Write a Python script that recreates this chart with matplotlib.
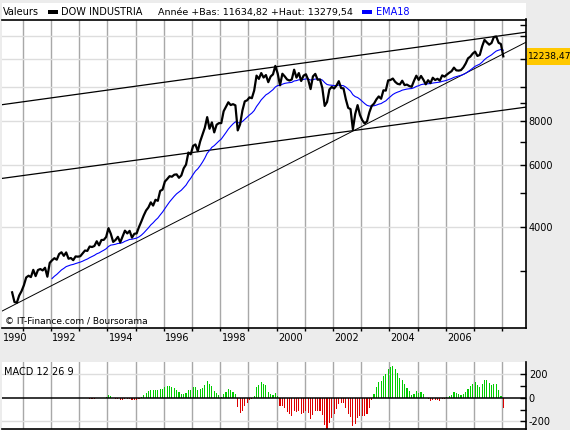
import numpy as np
import pandas as pd
import matplotlib
matplotlib.use('Agg')
import matplotlib.pyplot as plt
from matplotlib.patches import Rectangle

W, H = 570, 430

# monthly closes of the Dow, Aug 1990 -> Jan 2008
start_year, start_month = 1990, 8
dow_close = [
    2614, 2453, 2442, 2560, 2634,                                              # 1990
    2737, 2882, 2914, 2888, 3028, 2907, 3025, 3044, 3017, 3070, 2895, 3169,    # 1991
    3224, 3268, 3236, 3359, 3397, 3319, 3394, 3257, 3272, 3226, 3306, 3301,    # 1992
    3310, 3371, 3436, 3428, 3528, 3516, 3540, 3651, 3555, 3681, 3684, 3754,    # 1993
    3978, 3832, 3636, 3682, 3758, 3625, 3765, 3913, 3843, 3908, 3739, 3834,    # 1994
    3844, 4011, 4158, 4321, 4465, 4556, 4709, 4611, 4789, 4756, 5075, 5117,    # 1995
    5395, 5486, 5588, 5569, 5643, 5655, 5529, 5616, 5882, 6029, 6522, 6448,    # 1996
    6813, 6878, 6584, 7009, 7331, 7673, 8223, 7622, 7945, 7442, 7823, 7908,    # 1997
    7907, 8546, 8800, 9063, 8900, 8952, 8883, 7539, 7843, 8592, 9117, 9181,    # 1998
    9359, 9307, 9786, 10789, 10560, 10971, 10655, 10829, 10337, 10729, 10878, 11497,  # 1999
    10941, 10128, 10922, 10734, 10522, 10448, 10522, 11215, 10651, 10971, 10415, 10787,  # 2000
    10887, 10495, 9879, 10735, 10912, 10502, 10523, 9950, 8848, 9075, 9852, 10021,  # 2001
    9920, 10106, 10404, 9946, 9925, 9243, 8737, 8664, 7592, 8397, 8896, 8342,  # 2002
    8054, 7891, 7992, 8480, 8850, 8985, 9234, 9416, 9275, 9801, 9782, 10454,   # 2003
    10488, 10584, 10358, 10226, 10188, 10435, 10140, 10174, 10080, 10027, 10428, 10783,  # 2004
    10490, 10766, 10504, 10193, 10467, 10275, 10641, 10482, 10569, 10440, 10806, 10718,  # 2005
    10865, 10993, 11109, 11367, 11168, 11150, 11186, 11381, 11679, 12081, 12222, 12463,  # 2006
    12622, 12269, 12354, 13063, 13628, 13409, 13212, 13358, 13896, 13930, 13372, 13265,  # 2007
    12238.47,                                                                  # 2008
]
last_price = "12238,47"
header_info = "Année +Bas: 11634,82 +Haut: 13279,54"

# hand drawn trend lines (start / end in year, index value)
trend_x = [1990.27, 2008.85]
trend_top = [8921, 14336]
trend_mid = [5508, 8781]
trend_low = [2313, 13428]

price_ticks_labeled = [4000, 6000, 8000]
price_ticks_other = [3000, 5000, 7000, 9000, 10000, 12000, 14000, 15000]
price_grid = [4000, 6000, 8000, 10000, 12000, 14000]
year_labels = [1992, 1994, 1996, 1998, 2000, 2002, 2004, 2006]


def ema(s, n):
    out = pd.Series(np.nan, index=s.index)
    first = s.first_valid_index()
    seed = first + n - 1
    out[seed] = s[first:seed + 1].mean()
    a = 2.0 / (n + 1)
    for i in range(seed + 1, len(s)):
        out[i] = out[i - 1] + a * (s[i] - out[i - 1])
    return out


close = pd.Series(dow_close, dtype=float)
dates = start_year + (start_month - 1 + np.arange(len(close)) + 0.5) / 12
ema18 = ema(close, 18)
macd = ema(close, 12) - ema(close, 26)
signal = ema(macd, 9)
hist = macd - signal

xlim = (1990.266, 2008.847)

fig = plt.figure(figsize=(W / 100, H / 100), dpi=100, facecolor='#ECECEC')
plt.rcParams['font.family'] = ['DejaVu Sans']

# header strip
hd = fig.add_axes([2 / W, 1 - 19.5 / H, 524 / W, 16.5 / H])
hd.set_facecolor('white')
hd.set_xticks([])
hd.set_yticks([])
for s in hd.spines.values():
    s.set_visible(False)

def ftext(px, py, s, size=7, **kw):
    fig.text(px / W, 1 - py / H, s, va='center', fontsize=size, **kw)

ftext(3, 12, "Valeurs")
fig.patches.append(Rectangle((48 / W, 1 - 14 / H), 10 / W, 4 / H, transform=fig.transFigure,
                             facecolor='black', edgecolor='none'))
ftext(61, 12, "DOW INDUSTRIA")
ftext(158, 12, header_info, size=6.8)
fig.patches.append(Rectangle((362 / W, 1 - 14 / H), 10 / W, 4 / H, transform=fig.transFigure,
                             facecolor='#0000FF', edgecolor='none'))
ftext(376, 12, "EMA18", color='#0000FF')

# main chart
ax = fig.add_axes([2 / W, 1 - 328 / H, 524 / W, (328 - 19.5) / H])
ax.set_facecolor('white')
ax.set_yscale('log')
ax.set_xlim(*xlim)
ax.set_ylim(2070, 15575)

for yr in range(1991, 2009):
    ax.axvline(yr, color='#A8A8A8', lw=1, zorder=0)
for v in price_grid:
    ax.axhline(v, color='#DDDDDD', lw=1, zorder=0)

ax.plot(trend_x, trend_top, color='black', lw=0.9)
ax.plot(trend_x, trend_mid, color='black', lw=0.9)
ax.plot(trend_x, trend_low, color='black', lw=0.7)
ax.plot(dates, ema18, color='#0000FF', lw=0.8)
ax.plot(dates, close, color='black', lw=1.6)

ax.yaxis.tick_right()
ax.set_yticks(price_ticks_labeled + price_ticks_other)
ax.set_yticklabels([str(v) for v in price_ticks_labeled] + [''] * len(price_ticks_other))
ax.yaxis.set_minor_locator(matplotlib.ticker.NullLocator())
ax.tick_params(axis='y', direction='in', length=4, width=1, pad=2, labelsize=7)
ax.set_xticks(range(1991, 2009))
ax.set_xticklabels([])
ax.tick_params(axis='x', direction='out', length=2, width=1, color='black')
ax.spines['left'].set_visible(False)
for k in ('top', 'right', 'bottom'):
    ax.spines[k].set_linewidth(1.2)

for yr in year_labels:
    ax.text(yr + 0.05, -0.031, str(yr), transform=ax.get_xaxis_transform(),
            fontsize=7, ha='left', va='center')
ax.text(xlim[0] + 0.03, -0.031, "1990", transform=ax.get_xaxis_transform(),
        fontsize=7, ha='left', va='center')
ax.text(0.006, 0.022, "© IT-Finance.com / Boursorama", transform=ax.transAxes,
        fontsize=6.5, ha='left', va='center')

# last price box
fig.patches.append(Rectangle((526.5 / W, 1 - 65 / H), 44 / W, 16.5 / H, transform=fig.transFigure,
                             facecolor='#FFC800', edgecolor='none'))
ftext(527.5, 56.5, last_price, size=6.6)

# MACD panel
mx = fig.add_axes([2 / W, 1 - 428.5 / H, 524 / W, 67 / H])
mx.set_facecolor('white')
mx.set_xlim(*xlim)
mx.set_ylim(-261, 308)
for yr in range(1991, 2009):
    mx.axvline(yr, color='#A8A8A8', lw=1, zorder=0)
for v in (-200, 200):
    mx.axhline(v, color='#DDDDDD', lw=1, zorder=0)
colors = np.where(hist >= 0, '#00CC00', '#DD0000')
ok = hist.notna().values
mx.bar(dates[ok], hist[ok], width=0.04, color=colors[ok], linewidth=0)
mx.axhline(0, color='black', lw=1.1)
mx.yaxis.tick_right()
mx.set_yticks([-200, -100, 0, 100, 200])
mx.set_yticklabels(['-200', '', '0', '', '200'])
mx.tick_params(axis='y', direction='in', length=4, width=1, pad=2, labelsize=7)
mx.set_xticks([])
mx.spines['left'].set_visible(False)
mx.spines['top'].set_visible(False)
mx.spines['right'].set_linewidth(1.2)
mx.spines['bottom'].set_linewidth(1.2)
mx.text(0.004, 0.84, "MACD 12 26 9", transform=mx.transAxes, fontsize=7,
        ha='left', va='center')

fig.savefig('out.png', dpi=100, facecolor=fig.get_facecolor())
